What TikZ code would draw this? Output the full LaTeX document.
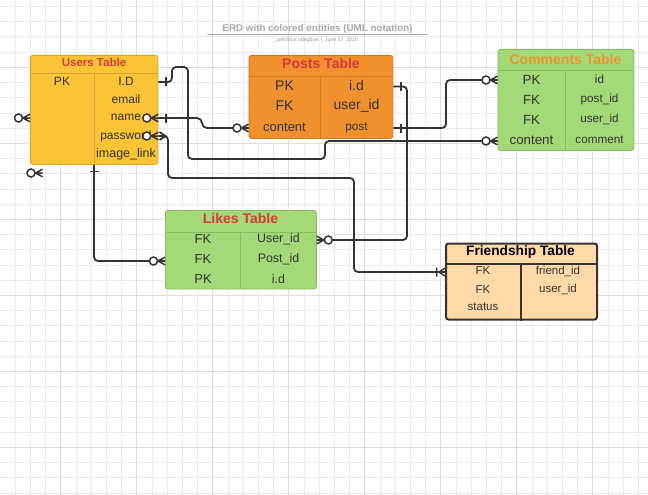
\documentclass[tikz,border=0pt]{standalone}
\usepackage{fontspec}
\setmainfont{Liberation Sans}
\definecolor{gridminor}{HTML}{EBEBEB}
\definecolor{gridmajor}{HTML}{DCDCDC}
\definecolor{ink}{HTML}{333333}
\definecolor{titlegray}{HTML}{A6A8B6}
\definecolor{usersfill}{HTML}{FBC436}
\definecolor{usersedge}{HTML}{D9A22E}
\definecolor{postsfill}{HTML}{F0912E}
\definecolor{postsedge}{HTML}{CF7B26}
\definecolor{greenfill}{HTML}{A3D977}
\definecolor{greenedge}{HTML}{88BC62}
\definecolor{friendfill}{HTML}{FFD9A8}
\definecolor{headred}{HTML}{D63A3A}
\definecolor{headorange}{HTML}{F0922F}
\begin{document}
\begin{tikzpicture}[x=1pt,y=-1pt,
  tbl/.style={rounded corners=2.5, line width=0.8, anchor=north west, inner sep=0pt},
  cell/.style={text=ink, inner sep=0pt, font=\fontsize{#1}{#1}\selectfont},
  cell/.default=12,
  head/.style={inner sep=0pt, font=\bfseries\fontsize{#1}{#1}\selectfont},
  conn/.style={draw=ink, line width=1.8, rounded corners=4},
  endline/.style={draw=ink, line width=1.5},
  zmany/.pic={
    \draw[endline] (0,-3.8) -- (7,0) -- (0,3.8) (0,0) -- (7,0);
    \draw[endline, fill=white] (11.5,0) circle (4);},
  crowbar/.pic={
    \draw[endline] (0,-4) -- (6,0) -- (0,4) (0,0) -- (6,0) (8.5,-4.5) -- (8.5,4.5);},
  onebar/.pic={\draw[endline] (7.5,-4.5) -- (7.5,4.5);}
]
\useasboundingbox (0,0) rectangle (648,495);
\fill[white] (0,0) rectangle (648,495);

% background grid
\foreach \i in {0,...,42} {\draw[gridminor, line width=0.8] (15.1+15.2*\i,0) -- (15.1+15.2*\i,495);}
\foreach \i in {0,...,32} {\draw[gridminor, line width=0.8] (0,6.5+15.2*\i) -- (648,6.5+15.2*\i);}
\foreach \i in {0,...,7} {\draw[gridmajor, line width=0.9] (60.7+76*\i,0) -- (60.7+76*\i,495);}
\foreach \i in {0,...,5} {\draw[gridmajor, line width=0.9] (0,67.3+76*\i) -- (648,67.3+76*\i);}

% heading
\node[font=\bfseries\fontsize{9.8}{11}\selectfont, text=titlegray] (title) at (317.5,28.5) {ERD with colored entities (UML notation)};
\draw[titlegray, line width=0.8] (207,34.3) -- (428,34.3);
\node[font=\fontsize{5.2}{6}\selectfont, text=titlegray!90!black] (byline) at (317.5,40.6) {precious udegbue\enspace|\enspace June 27, 2020};

% Users table
\node[tbl, draw=usersedge, fill=usersfill, minimum width=127.5, minimum height=109] (users) at (30,55) {};
\draw[usersedge, line width=0.8] (users.west |- 0,73.3) -- (users.east |- 0,73.3);
\draw[usersedge, line width=0.8] (94,73.3) -- (94,0 |- users.south);
\node[head=11.5, text=headred] (usersT) at (94,62.7) {Users Table};
\node[cell] (uPK) at (62,81.5) {PK};
\node[cell] (uID) at (126,81.5) {I.D};
\node[cell] (uEmail) at (126,99) {email};
\node[cell] (uName) at (126,117.5) {name};
\node[cell] (uPass) at (126,136) {password};
\node[cell=12.5] (uImg) at (126,154) {image\_link};

% Posts table
\node[tbl, draw=postsedge, fill=postsfill, minimum width=144, minimum height=83] (posts) at (248.5,55) {};
\draw[postsedge, line width=0.8] (posts.west |- 0,76) -- (posts.east |- 0,76);
\draw[postsedge, line width=0.8] (320.7,76) -- (320.7,0 |- posts.south);
\node[head=14, text=headred] (postsT) at (321,63.3) {Posts Table};
\node[cell=14] (pPK) at (284.5,85.5) {PK};
\node[cell=14] (pID) at (356.5,85.5) {i.d};
\node[cell=14] (pFK) at (284.5,106) {FK};
\node[cell=14] (pUser) at (356.5,106) {user\_id};
\node[cell=13] (pContent) at (284.5,127.5) {content};
\node[cell=11.8] (pPost) at (356.5,127.5) {post};

% Comments table
\node[tbl, draw=greenedge, fill=greenfill, minimum width=136, minimum height=101] (comments) at (497.5,49) {};
\draw[greenedge, line width=0.8] (comments.west |- 0,70) -- (comments.east |- 0,70);
\draw[greenedge, line width=0.8] (565.7,70) -- (565.7,0 |- comments.south);
\node[head=14, text=headorange] (commentsT) at (565.5,59) {Comments Table};
\node[cell=13.3] (cPK) at (531.5,79.5) {PK};
\node[cell=11.7] (cID) at (599.5,79.5) {id};
\node[cell=13.3] (cFK1) at (531.5,99.5) {FK};
\node[cell=11.7] (cPost) at (599.5,99.5) {post\_id};
\node[cell=13.3] (cFK2) at (531.5,119.5) {FK};
\node[cell=11.7] (cUser) at (599.5,119.5) {user\_id};
\node[cell=13.3] (cContent) at (531.5,140) {content};
\node[cell=11.7] (cComment) at (599.5,140) {comment};

% Likes table
\node[tbl, draw=greenedge, fill=greenfill, minimum width=151, minimum height=78.5] (likes) at (165,210) {};
\draw[greenedge, line width=0.8] (likes.west |- 0,232.3) -- (likes.east |- 0,232.3);
\draw[greenedge, line width=0.8] (240.7,232.3) -- (240.7,0 |- likes.south);
\node[head=14, text=headred] (likesT) at (240.5,218.3) {Likes Table};
\node[cell=13] (lFK1) at (203,239.5) {FK};
\node[cell=12.4] (lUser) at (278.5,239.5) {User\_id};
\node[cell=13] (lFK2) at (203,259.5) {FK};
\node[cell=12.4] (lPost) at (278.5,259.5) {Post\_id};
\node[cell=13] (lPK) at (203,279) {PK};
\node[cell=12.4] (lID) at (278.5,279) {i.d};

% Friendship table
\node[tbl, draw=ink, line width=2, fill=friendfill, minimum width=151, minimum height=76] (friend) at (445,242.5) {};
\draw[ink, line width=2] (friend.west |- 0,264) -- (friend.east |- 0,264);
\draw[ink, line width=2] (520.7,264) -- (520.7,0 |- friend.south);
\node[head=13.7, text=black] (friendT) at (520.5,251.7) {Friendship Table};
\node[cell=11.5] (fFK1) at (483,271) {FK};
\node[cell=11.5] (fFriend) at (558,271) {friend\_id};
\node[cell=11.5] (fFK2) at (483,289.3) {FK};
\node[cell=11.5] (fUser) at (558,289.3) {user\_id};
\node[cell=11.5] (fStatus) at (483,307.3) {status};

% relationship lines
\coordinate (uIdEnd) at (users.east |- 0,82);
\coordinate (uNameEnd) at (users.east |- 0,118);
\coordinate (uPassEnd) at (users.east |- 0,136);
\coordinate (uBottom) at (94,0 |- users.south);
\coordinate (pIdEnd) at (posts.east |- 0,86.5);
\coordinate (pPostEnd) at (posts.east |- 0,128);
\coordinate (pContentEnd) at (posts.west |- 0,128);
\coordinate (cIdEnd) at (comments.west |- 0,80);
\coordinate (cContentEnd) at (comments.west |- 0,141);
\coordinate (lUserEnd) at (likes.east |- 0,240);
\coordinate (lPostEnd) at (likes.west |- 0,261);
\coordinate (fFriendEnd) at (friend.west |- 0,272);

\draw[conn] (uIdEnd) -- (172,82) -- (172,67) -- (188,67) -- (188,159) -- (325,159) -- (325,141) -- (cContentEnd);
\draw[conn, rounded corners=5] (uNameEnd) -- (202,118) -- (202,128) -- (pContentEnd);
\draw[conn] (uPassEnd) -- (168,136) -- (168,178) -- (354,178) -- (354,272) -- (fFriendEnd);
\draw[conn] (uBottom) -- (94,261) -- (lPostEnd);
\draw[conn] (pIdEnd) -- (407,86.5) -- (407,240) -- (lUserEnd);
\draw[conn] (pPostEnd) -- (446,128) -- (446,80) -- (cIdEnd);

% line end markers
\path (cIdEnd) pic[rotate=180] {zmany};
\path (cContentEnd) pic[rotate=180] {zmany};
\path (pContentEnd) pic[rotate=180] {zmany};
\path (lUserEnd) pic {zmany};
\path (lPostEnd) pic[rotate=180] {zmany};
\path (fFriendEnd) pic[rotate=180] {crowbar};
\path (pIdEnd) pic {onebar};
\path (pPostEnd) pic {onebar};
\path (uIdEnd) pic {onebar};
\path (uNameEnd) pic {onebar};
\path (uNameEnd) pic[rotate=180] {zmany};
\path (uPassEnd) pic[rotate=180] {zmany};
\draw[endline, line width=1.8] (159.5,132) -- (165.5,136) -- (159.5,140);
\draw[endline] (uBottom) ++(-4.5,6.5) -- ++(9,0);
% loose markers beside the users table
\coordinate (looseA) at (users.west |- 0,118);
\coordinate (looseB) at (42.5,173);
\path (looseA) pic[rotate=180] {zmany};
\path (looseB) pic[rotate=180] {zmany};
\end{tikzpicture}
\end{document}
